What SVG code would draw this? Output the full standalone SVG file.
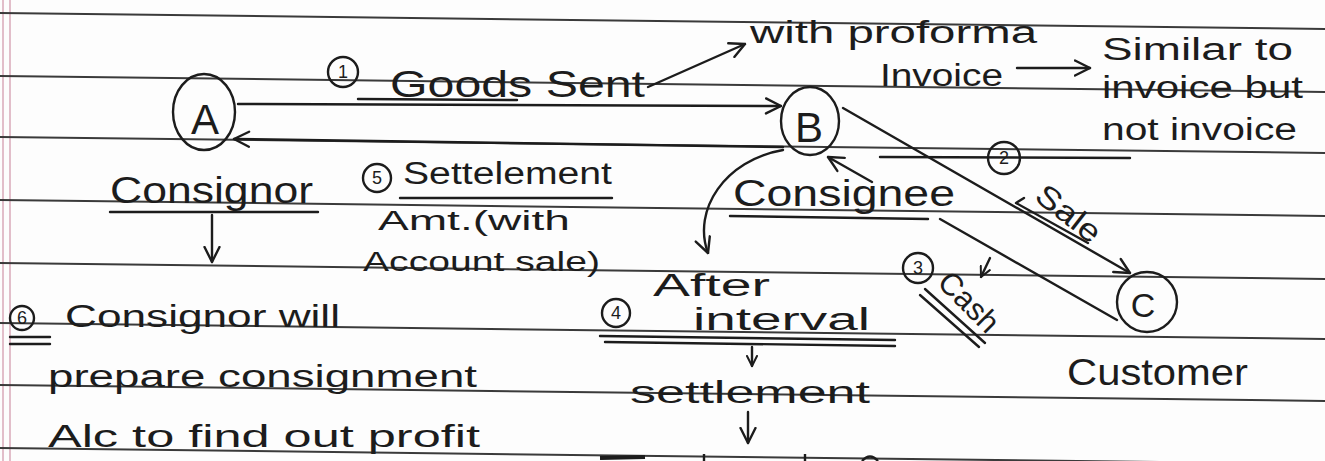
<svg xmlns="http://www.w3.org/2000/svg" width="1325" height="461" viewBox="0 0 1325 461">
<style>
 .rule{stroke:#3a3a3a;stroke-width:2;fill:none}
 .margin{stroke:#d9a9b8;stroke-width:1.5}
 .ink{stroke:#1c1c1c;stroke-width:2.4;fill:none;stroke-linecap:round;stroke-linejoin:round}
 .circ{stroke:#1c1c1c;stroke-width:2.4;fill:none}
 .t{font-family:"Liberation Sans",Arial,sans-serif;fill:#1c1c1c}
 .big{font-size:36px}
 .mid{font-size:31px}
 .sm{font-size:27px}
 .num{font-size:18px;text-anchor:middle}
 .node{text-anchor:middle}
</style>
<defs>
 <marker id="arr" viewBox="0 0 12 12" refX="11" refY="6" markerWidth="18" markerHeight="18" markerUnits="userSpaceOnUse" orient="auto"><path d="M1,1 L11,6 L1,11" fill="none" stroke="#1c1c1c" stroke-width="1.6" stroke-linecap="round" stroke-linejoin="round"/></marker>
 <marker id="arrS" viewBox="0 0 12 12" refX="11" refY="6" markerWidth="12" markerHeight="12" markerUnits="userSpaceOnUse" orient="auto"><path d="M1,1 L11,6 L1,11" fill="none" stroke="#1c1c1c" stroke-width="2" stroke-linecap="round" stroke-linejoin="round"/></marker>
</defs>
<rect width="1325" height="461" fill="#fdfdfd"/>
<g id="paper">
 <line class="margin" x1="3" y1="0" x2="3" y2="461"/>
 <line class="margin" x1="10" y1="0" x2="10" y2="461"/>
 <line class="rule" x1="0" y1="13" x2="1325" y2="29"/>
 <line class="rule" x1="0" y1="76" x2="1325" y2="92"/>
 <line class="rule" x1="0" y1="137" x2="1325" y2="153"/>
 <line class="rule" x1="0" y1="200" x2="1325" y2="216"/>
 <line class="rule" x1="0" y1="263" x2="1325" y2="279"/>
 <line class="rule" x1="0" y1="323" x2="1325" y2="339"/>
 <line class="rule" x1="0" y1="385" x2="1325" y2="401"/>
 <line class="rule" x1="0" y1="448" x2="1325" y2="464"/>
</g>

<g id="node-A">
 <ellipse class="circ" cx="204" cy="112" rx="31" ry="38"/>
 <text class="t node" x="205" y="134" font-size="42">A</text>
 <text class="t big" x="110" y="203" textLength="203" lengthAdjust="spacingAndGlyphs">Consignor</text>
 <line class="ink" x1="110" y1="212" x2="318" y2="212"/>
</g>

<g id="node-B">
 <ellipse class="circ" cx="810" cy="121" rx="29" ry="34"/>
 <text class="t node" x="809" y="142" font-size="42">B</text>
 <text class="t big" x="733" y="206" textLength="222" lengthAdjust="spacingAndGlyphs">Consignee</text>
 <line class="ink" x1="730" y1="216" x2="928" y2="219"/>
</g>

<g id="node-C">
 <ellipse class="circ" cx="1147" cy="302" rx="30" ry="30"/>
 <text class="t node" x="1143" y="317" font-size="34">C</text>
 <text class="t big" x="1067" y="385" textLength="181" lengthAdjust="spacingAndGlyphs">Customer</text>
</g>

<g id="connectors">
 <line class="ink" x1="238" y1="104" x2="781" y2="106" marker-end="url(#arr)"/>
 <line class="ink" x1="783" y1="147" x2="234" y2="139" marker-end="url(#arr)"/>
 <line class="ink" x1="843" y1="108" x2="1130" y2="273" marker-end="url(#arr)"/>
 <path class="ink" d="M1117,320 L940,219 M872,182 L828,157" marker-end="url(#arr)"/>
 <path class="ink" d="M783,150 C725,160 692,210 708,253" marker-end="url(#arr)"/>
 <line class="ink" x1="648" y1="87" x2="745" y2="44" marker-end="url(#arr)"/>
 <line class="ink" x1="1017" y1="68" x2="1090" y2="68" marker-end="url(#arr)"/>
 <line class="ink" x1="212" y1="215" x2="212" y2="262" marker-end="url(#arr)"/>
 <line class="ink" x1="752" y1="347" x2="752" y2="366" marker-end="url(#arrS)"/>
 <line class="ink" x1="748" y1="412" x2="748" y2="443" marker-end="url(#arr)"/>
</g>

<g id="label-goods-sent">
 <circle class="circ" cx="343" cy="72" r="15" stroke-width="2"/>
 <text class="t num" x="343" y="78">1</text>
 <text class="t big" x="390" y="97" textLength="255" lengthAdjust="spacingAndGlyphs">Goods Sent</text>
 <line class="ink" x1="358" y1="99" x2="517" y2="100"/>
</g>

<g id="label-proforma">
 <text class="t mid" x="750" y="43" textLength="287" lengthAdjust="spacingAndGlyphs">with proforma</text>
 <text class="t mid" x="880" y="86" textLength="123" lengthAdjust="spacingAndGlyphs">Invoice</text>
 <text class="t mid" x="1102" y="60" textLength="191" lengthAdjust="spacingAndGlyphs">Similar to</text>
 <text class="t mid" x="1102" y="98" textLength="201" lengthAdjust="spacingAndGlyphs">invoice but</text>
 <text class="t mid" x="1102" y="140" textLength="195" lengthAdjust="spacingAndGlyphs">not invoice</text>
 <line class="ink" x1="880" y1="157" x2="1130" y2="158" stroke-width="1.6"/>
</g>

<g id="label-settlement">
 <circle class="circ" cx="377" cy="178" r="14" stroke-width="2"/>
 <text class="t num" x="377" y="184">5</text>
 <text class="t mid" x="403" y="184" textLength="209" lengthAdjust="spacingAndGlyphs">Settelement</text>
 <line class="ink" x1="400" y1="198" x2="612" y2="198"/>
 <text class="t sm" x="378" y="230" textLength="192" lengthAdjust="spacingAndGlyphs">Amt.(with</text>
 <text class="t sm" x="363" y="271" textLength="237" lengthAdjust="spacingAndGlyphs">Account sale)</text>
</g>

<g id="label-sale">
 <circle class="circ" cx="1004" cy="158" r="16" stroke-width="2"/>
 <text class="t num" x="1004" y="164">2</text>
 <text class="t mid" x="1033" y="199" transform="rotate(38 1033 199)" textLength="74" lengthAdjust="spacingAndGlyphs">Sale</text>
 <path class="ink" d="M1024,198 L1016,203 L1088,243" stroke-width="1.8"/>
</g>

<g id="label-cash">
 <circle class="circ" cx="918" cy="268" r="15" stroke-width="2"/>
 <text class="t num" x="918" y="274">3</text>
 <text class="t mid" x="936" y="284" transform="rotate(45 936 284)" textLength="72" lengthAdjust="spacingAndGlyphs">Cash</text>
 <line class="ink" x1="925" y1="289" x2="985" y2="343" stroke-width="1.8"/>
 <line class="ink" x1="920" y1="295" x2="979" y2="347" stroke-width="1.8"/>
 <line class="ink" x1="990" y1="258" x2="981" y2="277" marker-end="url(#arrS)" stroke-width="1.8"/>
</g>

<g id="label-interval">
 <text class="t mid" x="653" y="296" textLength="117" lengthAdjust="spacingAndGlyphs">After</text>
 <circle class="circ" cx="616" cy="313" r="14" stroke-width="2"/>
 <text class="t num" x="616" y="319">4</text>
 <text class="t mid" x="693" y="330" textLength="177" lengthAdjust="spacingAndGlyphs">interval</text>
 <line class="ink" x1="600" y1="336" x2="895" y2="340"/>
 <line class="ink" x1="605" y1="342" x2="895" y2="346"/>
 <text class="t mid" x="630" y="403" textLength="240" lengthAdjust="spacingAndGlyphs">settlement</text>
</g>

<g id="label-consignor-note">
 <circle class="circ" cx="22" cy="318" r="12" stroke-width="2"/>
 <text class="t num" x="22" y="324" font-size="16">6</text>
 <line class="ink" x1="10" y1="337" x2="50" y2="337"/>
 <line class="ink" x1="10" y1="344" x2="50" y2="344"/>
 <text class="t mid" x="65" y="327" textLength="275" lengthAdjust="spacingAndGlyphs">Consignor will</text>
 <text class="t mid" x="48" y="387" textLength="429" lengthAdjust="spacingAndGlyphs">prepare consignment</text>
 <text class="t mid" x="48" y="447" textLength="432" lengthAdjust="spacingAndGlyphs">Alc to find out profit</text>
</g>

<g id="cropped-marks">
 <line x1="600" y1="458" x2="645" y2="457" stroke="#1c1c1c" stroke-width="4"/>
 <line x1="704" y1="454" x2="704" y2="461" stroke="#1c1c1c" stroke-width="2.4"/>
 <line x1="805" y1="454" x2="805" y2="461" stroke="#1c1c1c" stroke-width="2.4"/>
 <path d="M862,461 Q870,452 878,461" stroke="#1c1c1c" stroke-width="2.4" fill="none"/>
</g>
</svg>
